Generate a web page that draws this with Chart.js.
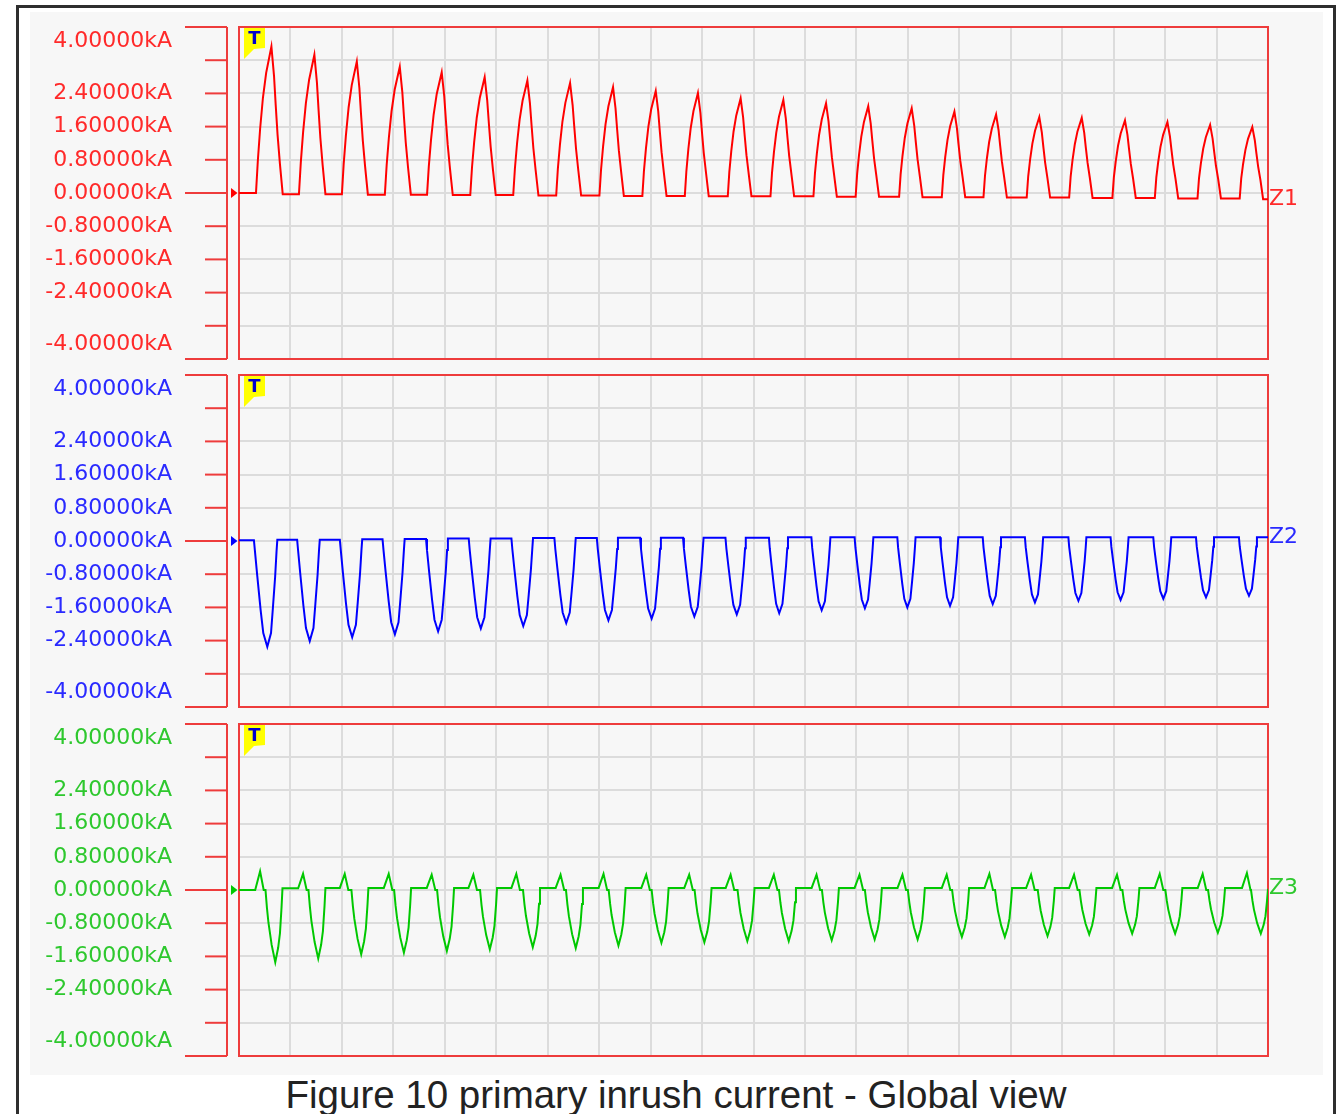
<!DOCTYPE html>
<html><head><meta charset="utf-8">
<script src="https://cdn.jsdelivr.net/npm/chart.js@4.4.0/dist/chart.umd.min.js"></script>
<style>
html,body{margin:0;padding:0;background:#fff;width:1340px;height:1114px;overflow:hidden;position:relative;}
#frame{position:absolute;left:16px;top:5px;width:1314px;height:1130px;border:3px solid #2e2e2e;border-bottom:none;}
#panel{position:absolute;left:30px;top:12px;width:1293px;height:1063px;background:#f7f7f7;}
canvas{position:absolute;left:30px;}
#caption{position:absolute;left:0;width:1352px;top:1076px;text-align:center;font-family:"Liberation Sans",Arial,sans-serif;font-size:38.5px;line-height:38px;color:#222;white-space:nowrap;}
</style></head>
<body>
<div id="frame"></div>
<div id="panel"></div>
<canvas id="c1" width="1293" height="351" style="top:12px"></canvas>
<canvas id="c2" width="1293" height="351" style="top:360px"></canvas>
<canvas id="c3" width="1293" height="351" style="top:709px"></canvas>
<div id="caption">Figure 10 primary inrush current - Global view</div>
<script>
// ---- axis definitions ----
const xTickValues = [0,20,40,60,80,100,120,140,160,180,200,220,240,260,280,300,320,340,360,380,400];
const xLabelValues = [0, 100, 200, 300];
const xTickLabels = ['0us', '100.00ms', '200.00ms', '300.00ms'];
const yTickValues = [-4,-3.2,-2.4,-1.6,-0.8,0,0.8,1.6,2.4,3.2,4];
const yLabelValues = [4, 2.4, 1.6, 0.8, 0, -0.8, -1.6, -2.4, -4];
const yTickLabels = ['4.00000kA','2.40000kA','1.60000kA','0.80000kA','0.00000kA','-0.80000kA','-1.60000kA','-2.40000kA','-4.00000kA'];
const channelNames = ['Z1', 'Z2', 'Z3'];

// ---- Z1 (red): positive humps, time in ms, current in kA ----
const z1Start = [6.6,23.3,40.0,56.7,73.1,89.9,106.6,123.3,140.1,156.8,173.3,190.0,206.6,223.3,239.7,256.6,273.2,289.4,306.2,322.7,339.5,356.0,372.6,389.0];
const z1PeakT = [12.6,29.3,45.8,62.5,78.8,95.5,112.1,128.7,145.4,162.0,178.4,195.0,211.6,228.2,244.6,261.5,278.1,294.3,311.1,327.6,344.4,360.9,377.5,393.9];
const z1PeakV = [3.53,3.33,3.17,3.04,2.91,2.79,2.71,2.65,2.55,2.46,2.41,2.28,2.24,2.16,2.09,2.04,1.96,1.89,1.83,1.81,1.75,1.71,1.64,1.59];
const z1End = [17.0,33.6,50.1,66.8,83.1,99.8,116.4,133.0,149.6,166.2,182.6,199.2,215.8,232.4,248.8,265.7,282.3,298.5,315.3,331.8,348.6,365.1,381.7,398.1];
const z1Base = [-0.03,-0.03,-0.04,-0.04,-0.05,-0.05,-0.06,-0.06,-0.07,-0.07,-0.08,-0.08,-0.08,-0.09,-0.09,-0.10,-0.10,-0.11,-0.11,-0.12,-0.12,-0.13,-0.13,-0.15];
// hump outline measured on the picture: [fraction of rise/fall time, fraction of peak]
const z1RiseShape = [[0.12,0.22],[0.27,0.44],[0.45,0.65],[0.66,0.82]];
const z1FallShape = [[0.23,0.80],[0.38,0.60],[0.54,0.40],[0.75,0.20]];

// ---- Z2 (blue): negative troughs ----
const z2Start = [5.8,22.6,39.2,55.8,72.7,89.3,105.9,122.6,139.1,155.9,172.6,189.1,206.0,222.5,239.3,255.9,272.5,289.1,305.5,322.4,338.8,355.4,372.0,388.7];
const z2TroughT = [11.0,27.5,44.0,60.6,77.4,94.0,110.5,127.2,143.6,160.4,177.0,193.5,210.0,226.5,243.3,259.8,276.4,293.0,309.4,326.3,342.7,359.3,375.9,392.6];
const z2TroughV = [-2.55,-2.41,-2.32,-2.25,-2.18,-2.11,-2.05,-1.98,-1.91,-1.87,-1.82,-1.77,-1.74,-1.67,-1.62,-1.60,-1.56,-1.52,-1.48,-1.44,-1.42,-1.39,-1.36,-1.32];
const z2End = [14.9,31.4,47.9,64.4,81.2,97.8,114.3,130.9,147.3,164.0,180.6,197.0,213.4,229.9,246.6,263.0,279.6,296.2,312.6,329.4,345.8,362.4,379.0,395.7];
const z2Base = [0.03,0.03,0.04,0.05,0.06,0.06,0.07,0.07,0.08,0.08,0.08,0.08,0.09,0.09,0.09,0.09,0.09,0.09,0.09,0.09,0.09,0.09,0.09,0.09];
const z2Initial = 0.02;
const z2FallShape = [[0.08,0.10],[0.25,0.33],[0.50,0.65],[0.70,0.87]];
const z2RiseShape = [[0.37,0.87],[0.56,0.63],[0.78,0.34],[0.92,0.10]];

// ---- Z3 (green): small positive bump followed by negative trough ----
const z3BumpStart = [6.3,23.0,39.2,56.3,73.0,89.2,105.9,123.1,139.8,156.4,173.1,189.2,206.0,222.6,239.3,256.0,273.2,289.8,306.0,322.7,339.4,356.0,372.7,389.9];
const z3BumpT = [8.2,24.9,41.1,58.2,74.9,91.1,107.8,125.0,141.7,158.3,175.0,191.1,207.9,224.5,241.2,257.9,275.1,291.7,307.9,324.6,341.3,357.9,374.6,391.8];
const z3BumpV = [0.45,0.39,0.39,0.39,0.37,0.37,0.39,0.37,0.39,0.37,0.37,0.37,0.37,0.37,0.37,0.37,0.37,0.39,0.37,0.37,0.37,0.39,0.39,0.41];
const z3BumpEnd = [9.6,26.3,42.5,59.6,76.3,92.5,109.2,126.4,143.1,159.7,176.4,192.5,209.3,225.9,242.6,259.3,276.5,293.1,309.3,326.0,342.7,359.3,376.0,393.2];
const z3DropStart = [10.3,27.0,43.7,60.3,77.0,93.7,110.4,127.1,143.7,160.4,177.1,193.8,209.9,226.6,243.3,260.0,277.2,293.9,310.5,326.7,343.4,360.1,376.7,393.4];
const z3TroughT = [14.1,30.8,47.5,64.1,80.8,97.5,114.2,130.9,147.5,164.2,180.9,197.6,213.7,230.4,247.1,263.8,281.0,297.7,314.3,330.5,347.2,363.9,380.5,397.2];
const z3TroughV = [-1.74,-1.65,-1.55,-1.51,-1.47,-1.43,-1.38,-1.40,-1.34,-1.27,-1.26,-1.23,-1.23,-1.21,-1.19,-1.19,-1.13,-1.13,-1.11,-1.07,-1.05,-1.05,-1.03,-1.05];
const z3TroughEnd = [16.9,33.6,50.3,66.9,83.6,100.3,117.0,133.7,150.3,167.0,183.7,200.4,216.5,233.2,249.9,266.6,283.8,300.5,317.1,333.3,350.0,366.7,383.3,400.0];
const z3Flat = [0.04,0.05,0.05,0.05,0.05,0.05,0.05,0.05,0.05,0.05,0.05,0.05,0.05,0.05,0.05,0.05,0.05,0.05,0.05,0.05,0.05,0.05,0.05,0.03];
const z3DropShape = [[0.15,0.25],[0.30,0.45],[0.63,0.76]];
const z3RecoverShape = [[0.40,0.80],[0.65,0.60],[0.87,0.24]];

// ---- build point lists from the read values ----
function addEdge(p, t0, t1, v, shape) {
  shape.forEach(([ft, fv]) => p.push({x: t0 + ft * (t1 - t0), y: fv * v}));
}
function buildZ1() {
  const p = [{x:0, y:0}];
  for (let i = 0; i < z1PeakT.length; i++) {
    p.push({x:z1Start[i], y: i ? z1Base[i-1] : 0});
    addEdge(p, z1Start[i], z1PeakT[i], z1PeakV[i], z1RiseShape);
    p.push({x:z1PeakT[i], y:z1PeakV[i]});
    addEdge(p, z1PeakT[i], z1End[i], z1PeakV[i], z1FallShape);
    p.push({x:z1End[i], y:z1Base[i]});
  }
  p.push({x:400, y:z1Base[z1Base.length-1]});
  return p;
}
function buildZ2() {
  const p = [{x:0, y:z2Initial}];
  for (let i = 0; i < z2TroughT.length; i++) {
    p.push({x:z2Start[i], y: i ? z2Base[i-1] : z2Initial});
    addEdge(p, z2Start[i], z2TroughT[i], z2TroughV[i], z2FallShape);
    p.push({x:z2TroughT[i], y:z2TroughV[i]});
    addEdge(p, z2TroughT[i], z2End[i], z2TroughV[i], z2RiseShape);
    p.push({x:z2End[i], y:z2Base[i]});
  }
  p.push({x:400, y:z2Base[z2Base.length-1]});
  return p;
}
function buildZ3() {
  const p = [{x:0, y:0}];
  for (let i = 0; i < z3BumpT.length; i++) {
    p.push({x:z3BumpStart[i], y: i ? z3Flat[i-1] : 0});
    p.push({x:z3BumpT[i], y:z3BumpV[i]});
    p.push({x:z3BumpEnd[i], y:0});
    p.push({x:z3DropStart[i], y:0});
    addEdge(p, z3DropStart[i], z3TroughT[i], z3TroughV[i], z3DropShape);
    p.push({x:z3TroughT[i], y:z3TroughV[i]});
    addEdge(p, z3TroughT[i], z3TroughEnd[i], z3TroughV[i], z3RecoverShape);
    p.push({x:z3TroughEnd[i], y:z3Flat[i]});
  }
  if (z3TroughEnd[z3TroughEnd.length-1] < 400) p.push({x:400, y:z3Flat[z3Flat.length-1]});
  return p;
}

const FONT = 'DejaVu Sans';
const FRAME_RED = '#ee3c3c';

function makeDecor(cfg) {
  return {
    id: 'decor' + cfg.name,
    beforeDatasetsDraw(chart) {
      const a = chart.chartArea, ctx = chart.ctx;
      ctx.save();
      ctx.strokeStyle = FRAME_RED; ctx.lineWidth = 2;
      ctx.strokeRect(a.left, a.top, a.right - a.left, a.bottom - a.top);
      ctx.restore();
    },
    afterDatasetsDraw(chart) {
      const a = chart.chartArea, ctx = chart.ctx, ys = chart.scales.y;
      ctx.save();
      // T trigger flag
      const l = a.left, t = a.top;
      ctx.fillStyle = '#ffff00';
      ctx.beginPath();
      ctx.moveTo(l+5, t+1); ctx.lineTo(l+26, t+1); ctx.lineTo(l+26, t+21);
      ctx.lineTo(l+15, t+22); ctx.lineTo(l+5, t+32); ctx.closePath(); ctx.fill();
      ctx.fillStyle = '#0000cc';
      ctx.font = 'bold 18px ' + FONT; ctx.textAlign = 'center'; ctx.textBaseline = 'middle';
      ctx.fillText('T', l+15.5, t+12);
      // left axis line and ticks
      const ax = a.left - 12;
      ctx.strokeStyle = FRAME_RED; ctx.lineWidth = 2;
      ctx.beginPath(); ctx.moveTo(ax, a.top); ctx.lineTo(ax, a.bottom); ctx.stroke();
      yTickValues.forEach(v => {
        const y = ys.getPixelForValue(v);
        const len = (Math.abs(v) > 3.9 || Math.abs(v) < 1e-9) ? 42 : 22;
        ctx.beginPath(); ctx.moveTo(ax - len, y); ctx.lineTo(ax, y); ctx.stroke();
      });
      // zero marker
      const z = ys.getPixelForValue(0);
      ctx.fillStyle = cfg.color;
      ctx.beginPath(); ctx.moveTo(a.left-8, z-5); ctx.lineTo(a.left-8, z+5); ctx.lineTo(a.left-1.5, z); ctx.closePath(); ctx.fill();
      // channel label at right end
      const data = chart.data.datasets[0].data;
      const last = data[data.length-1].y;
      ctx.fillStyle = cfg.labelColor;
      ctx.font = '22px ' + FONT; ctx.textAlign = 'left'; ctx.textBaseline = 'middle';
      ctx.fillText(cfg.name, a.right + 1, ys.getPixelForValue(last));
      ctx.restore();
    }
  };
}

function makeChart(id, points, cfg) {
  return new Chart(document.getElementById(id), {
    type: 'line',
    data: { datasets: [{ data: points, borderColor: cfg.color, borderWidth: 2, pointRadius: 0, tension: 0, fill: false }] },
    options: {
      responsive: false, animation: false, devicePixelRatio: 1,
      parsing: false, normalized: true,
      layout: { padding: { left: 0, right: 55, top: 15, bottom: 4 } },
      plugins: { legend: { display: false }, tooltip: { enabled: false } },
      scales: {
        x: {
          type: 'linear', min: 0, max: 400,
          afterBuildTicks: s => { s.ticks = xTickValues.map(v => ({ value: v })); },
          afterFit: s => { s.height = 0; s.paddingLeft = 0; s.paddingRight = 0; },
          grid: { color: '#dcdcdc', lineWidth: 2, drawTicks: false },
          border: { display: false },
          ticks: {
            autoSkip: false, maxRotation: 0, align: 'start', padding: -29, labelOffset: 4,
            color: '#333', font: { family: FONT, size: 22 },
            callback: v => { const i = xLabelValues.indexOf(v); return i >= 0 ? xTickLabels[i] : ''; }
          }
        },
        y: {
          type: 'linear', min: -4, max: 4,
          afterBuildTicks: s => { s.ticks = yTickValues.map(v => ({ value: v })); },
          afterFit: s => { s.width = 209; s.paddingTop = 0; s.paddingBottom = 0; },
          grid: { color: '#dcdcdc', lineWidth: 2, drawTicks: false },
          border: { display: false },
          ticks: {
            autoSkip: false, padding: 67, color: cfg.labelColor,
            font: { family: FONT, size: 22, lineHeight: 1.3 },
            callback: v => {
              const i = yLabelValues.findIndex(u => Math.abs(u - v) < 1e-6);
              if (i < 0) return '';
              if (v > 3.9) return ['', yTickLabels[i]];
              if (v < -3.9) return [yTickLabels[i], ''];
              return yTickLabels[i];
            }
          }
        }
      }
    },
    plugins: [makeDecor(cfg)]
  });
}

makeChart('c1', buildZ1(), { name: channelNames[0], color: '#ff0000', labelColor: '#ff2a2a' });
makeChart('c2', buildZ2(), { name: channelNames[1], color: '#0000ff', labelColor: '#2a2aff' });
makeChart('c3', buildZ3(), { name: channelNames[2], color: '#00c800', labelColor: '#2ec82e' });
</script>
</body></html>
